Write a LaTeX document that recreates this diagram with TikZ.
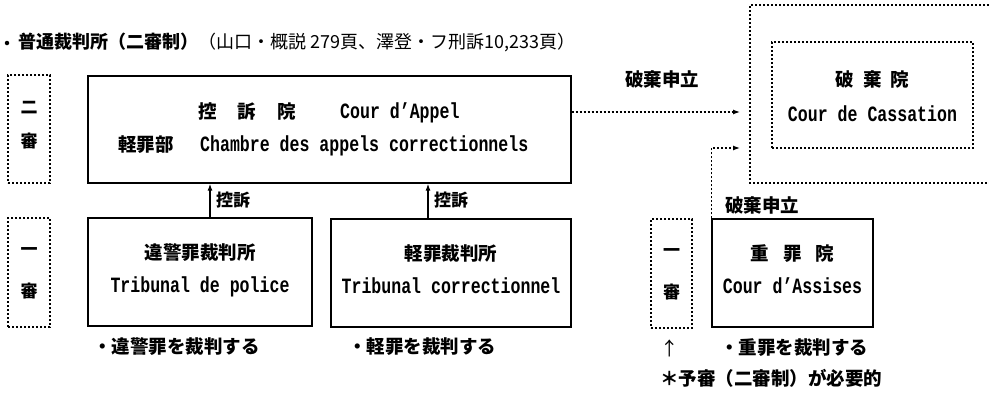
\documentclass[tikz,border=0pt]{standalone}
\usepackage{fontspec}
\usetikzlibrary{arrows.meta,calc}
\newfontfamily\jp{Noto Sans CJK JP}
\newfontfamily\lat[FakeStretch=0.76]{Liberation Mono}
\newcommand{\fsz}[1]{\fontsize{#1}{#1}\selectfont}
\begin{document}
\begin{tikzpicture}[x=1pt,y=-1pt,
  solidbox/.style={draw,line width=1.3pt,inner sep=0pt},
  dotbox/.style={draw,line width=1.2pt,dash pattern=on 2.2pt off 1.8pt,inner sep=0pt},
  dotline/.style={line width=1.2pt,dash pattern=on 2.2pt off 1.8pt},
  jtxt/.style={inner sep=0pt,font=\jp\bfseries\fsz{18.5}},
  jsm/.style={inner sep=0pt,font=\jp\bfseries\fsz{17}},
  ltxt/.style={inner sep=0pt,font=\lat\bfseries\fsz{21.8}},
  arr/.style={line width=1.2pt,-{Latex[length=7pt,width=5pt]}},
  dotarr/.style={dotline,-{Latex[length=7pt,width=5pt]}}]
\useasboundingbox (0,0) rectangle (989,394);

% title
\node[circle,fill,inner sep=0pt,minimum size=4.5pt] (bullet) at (7,43) {};
\node[anchor=west,inner sep=0pt,font=\jp\fsz{18}] (title) at (18,42)
  {\bfseries 普通裁判所（二審制）\mdseries（山口・概説 279頁、澤登・フ刑訴10,233頁）};

% instance labels
\node[dotbox,minimum width=42pt,minimum height=108pt] (nishin) at (29,129) {};
\node[jsm] (ni) at (29,108) {二};
\node[jsm] (shinA) at (29,141) {審};
\node[dotbox,minimum width=42pt,minimum height=109pt] (isshinA) at (29,272.5) {};
\node[jsm] (ichiA) at (29,252) {一};
\node[jsm] (shinB) at (29,291) {審};
\node[dotbox,minimum width=41pt,minimum height=109pt] (isshinB) at (671.5,273.5) {};
\node[jsm] (ichiB) at (671.5,253) {一};
\node[jsm] (shinC) at (671.5,292) {審};

% Cour d'Appel
\node[solidbox,minimum width=483pt,minimum height=107pt] (appeal) at (329.5,129.5) {};
\node[jtxt,anchor=base west] (appealjp) at (198,118) {控\hspace{21pt}訴\hspace{21pt}院};
\node[ltxt,anchor=base west] (appeallat) at (340,118) {Cour d’Appel};
\node[jtxt,anchor=base west] (chamjp) at (118,151) {軽罪部};
\node[ltxt,anchor=base west] (chamlat) at (200,151) {Chambre des appels correctionnels};

% first instance courts
\node[solidbox,minimum width=224pt,minimum height=108pt] (police) at (200,272) {};
\node[jtxt] (policejp) at (200,253) {違警罪裁判所};
\node[ltxt,anchor=base] (policelat) at (200,292) {Tribunal de police};
\node[solidbox,minimum width=240pt,minimum height=108pt] (corr) at (451,273) {};
\node[jtxt] (corrjp) at (451,254) {軽罪裁判所};
\node[ltxt,anchor=base] (corrlat) at (451,293) {Tribunal correctionnel};
\node[solidbox,minimum width=161pt,minimum height=108pt] (assises) at (792.5,273) {};
\node[jtxt] (assisesjp) at (792.5,254) {重\hspace{14pt}罪\hspace{14pt}院};
\node[ltxt,anchor=base] (assiseslat) at (792.5,293) {Cour d’Assises};

% Cour de Cassation
\draw[dotline] (989,5) -- (750,5) -- (750,183) -- (989,183);
\node[dotbox,minimum width=201pt,minimum height=106pt] (cass) at (872.5,95) {};
\node[jtxt] (cassjp) at (872.5,79) {破\hspace{9pt}棄\hspace{9pt}院};
\node[ltxt,anchor=base] (casslat) at (872.5,121) {Cour de Cassation};

% appeals
\coordinate (k1) at ($(police.north)+(10,0)$);
\draw[arr] (k1) -- (k1 |- appeal.south);
\node[jsm,anchor=west] (kouso1) at (216,200) {控訴};
\coordinate (k2) at ($(corr.north)+(-23,0)$);
\draw[arr] (k2) -- (k2 |- appeal.south);
\node[jsm,anchor=west] (kouso2) at (434,200) {控訴};

% cassation appeals
\coordinate (h1) at ($(appeal.east)+(0,-17.5)$);
\coordinate (h1e) at (740,112);
\draw[dotarr] (h1) -- (h1e);
\node[jtxt] (haki1) at (662,79) {破棄申立};
\coordinate (h2e) at (740,148);
\draw[dotarr] (assises.north west) |- (h2e);
\node[jtxt] (haki2) at (762,205) {破棄申立};

% notes
\node[jtxt,anchor=west] (n1) at (93,347) {・違警罪を裁判する};
\node[jtxt,anchor=west] (n2) at (348,347) {・軽罪を裁判する};
\node[jtxt,anchor=west] (n3) at (720,348) {・重罪を裁判する};
\node[inner sep=0pt,font=\jp\fsz{18.5}] (up) at (670,348) {↑};
\node[jtxt,anchor=west] (n4) at (660,378) {＊予審（二審制）が必要的};
\end{tikzpicture}
\end{document}
